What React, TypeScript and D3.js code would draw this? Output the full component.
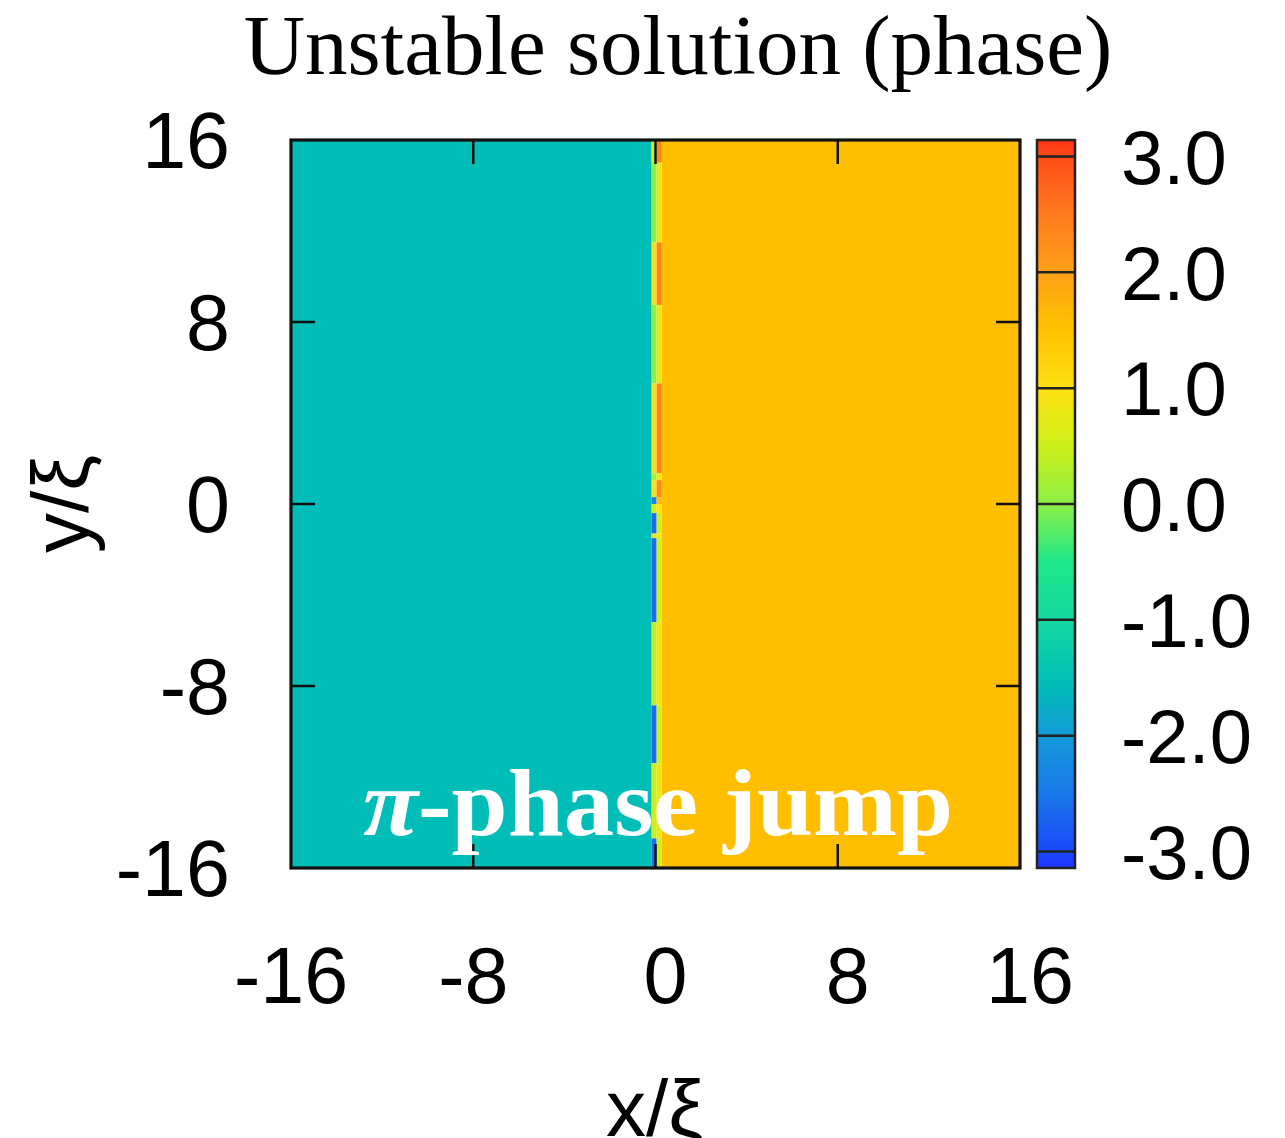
import React from "react";
import * as d3 from "d3";

// Axis ranges (in units of the coherence length ξ) and tick values
const xDomain = [-16, 16];
const yDomain = [-16, 16];
const xTicks = [-16, -8, 0, 8, 16];
const yTicks = [-16, -8, 0, 8, 16];
const cbTicks = [-3, -2, -1, 0, 1, 2, 3];

// Bulk phase on either side of the domain wall
const phaseLeft = -1.55;
const phaseRight = 1.57;

// Domain wall: two grid columns (x edges) and y-segments with their phase values
const wallColumnEdges = [-0.17, 0.05, 0.27];
const wallSegmentEdges = [16, 15.0, 11.5, 8.75, 5.3, 1.35, 1.05, 0.3, 0.0, -0.4, -1.3, -1.5, -5.2, -8.85, -11.4, -14.7, -16];
const wallPhaseInner = [0.6, 0.0, 0.9, 0.0, 0.9, 0.2, 0.9, -2.4, 0.6, -2.6, 0.8, -2.6, 0.4, -2.6, 0.5, -2.6];
const wallPhaseOuter = [2.4, 0.8, 2.4, 0.8, 2.4, 0.9, 2.3, 1.6, 1.0, 0.5, 0.9, 0.5, 0.9, 0.5, 0.8, 0.5];

// Colour palette (phase -> colour)
const paletteValues = [-Math.PI, -3.0, -2.5, -2.0, -1.55, -1.0, -0.5, 0.0, 0.5, 1.0, 1.57, 2.0, 2.5, 3.0, Math.PI];
const paletteColors = [
  "#1e32ff", "#1a48fa", "#1a78ea", "#149ad8", "#00beb7", "#14d8a0", "#1ee88a",
  "#8cf046", "#cdf01a", "#ffe012", "#ffbe00", "#ffa018", "#ff7a1e", "#ff4c18", "#ff3414",
];

const W = 1285;
const H = 1138;
const plot = { left: 291, right: 1020, top: 140, bottom: 868 };
const cbar = { left: 1037, right: 1075 };

export default function App() {
  const x = d3.scaleLinear().domain(xDomain).range([plot.left, plot.right]);
  const y = d3.scaleLinear().domain(yDomain).range([plot.bottom, plot.top]);
  const c = d3.scaleLinear().domain([-Math.PI, Math.PI]).range([plot.bottom, plot.top]);
  const color = d3
    .scaleLinear<string>()
    .domain(paletteValues)
    .range(paletteColors)
    .interpolate(d3.interpolateRgb)
    .clamp(true);

  // plain hyphen for negative numbers
  const fmt = (v: number) => d3.format(".1f")(v).replace("\u2212", "-");
  const tickLen = 24;
  const tickFont = "'Liberation Sans', Arial, Helvetica, sans-serif";
  const serif = "'Liberation Serif', 'Times New Roman', serif";

  const wallRects: { x0: number; x1: number; y0: number; y1: number; v: number }[] = [];
  wallSegmentEdges.slice(0, -1).forEach((top, i) => {
    const bottom = wallSegmentEdges[i + 1];
    wallRects.push({ x0: wallColumnEdges[0], x1: wallColumnEdges[1], y0: bottom, y1: top, v: wallPhaseInner[i] });
    wallRects.push({ x0: wallColumnEdges[1], x1: wallColumnEdges[2], y0: bottom, y1: top, v: wallPhaseOuter[i] });
  });

  const gradStops = d3.range(0, 1.0001, 0.02).map((t) => {
    const v = -Math.PI + t * 2 * Math.PI;
    return { offset: `${(t * 100).toFixed(1)}%`, col: color(v) };
  });

  return (
    <div style={{ position: "absolute", left: 0, top: 0 }}>
      <svg width={W} height={H} viewBox={`0 0 ${W} ${H}`} style={{ display: "block", background: "#fff" }}>
        <defs>
          <linearGradient id="cbGrad" x1="0" y1="1" x2="0" y2="0">
            {gradStops.map((s, i) => (
              <stop key={i} offset={s.offset} stopColor={s.col} />
            ))}
          </linearGradient>
        </defs>

        {/* title */}
        <text x={678} y={74} textAnchor="middle" fontFamily={serif} fontSize={85} fill="#000">
          Unstable solution (phase)
        </text>

        {/* bulk regions */}
        <rect x={x(xDomain[0])} y={y(yDomain[1])} width={x(wallColumnEdges[0]) - x(xDomain[0])} height={y(yDomain[0]) - y(yDomain[1])} fill={color(phaseLeft)} />
        <rect x={x(wallColumnEdges[2])} y={y(yDomain[1])} width={x(xDomain[1]) - x(wallColumnEdges[2])} height={y(yDomain[0]) - y(yDomain[1])} fill={color(phaseRight)} />

        {/* domain wall cells */}
        {wallRects.map((r, i) => (
          <rect key={i} x={x(r.x0)} y={y(r.y1)} width={x(r.x1) - x(r.x0)} height={y(r.y0) - y(r.y1)} fill={color(r.v)} />
        ))}

        {/* inward ticks */}
        {xTicks.slice(1, -1).map((t) => (
          <g key={`xt${t}`} stroke="#111" strokeWidth={2.5}>
            <line x1={x(t)} x2={x(t)} y1={plot.bottom} y2={plot.bottom - tickLen} />
            <line x1={x(t)} x2={x(t)} y1={plot.top} y2={plot.top + tickLen} />
          </g>
        ))}
        {yTicks.slice(1, -1).map((t) => (
          <g key={`yt${t}`} stroke="#111" strokeWidth={2.5}>
            <line x1={plot.left} x2={plot.left + tickLen} y1={y(t)} y2={y(t)} />
            <line x1={plot.right} x2={plot.right - tickLen} y1={y(t)} y2={y(t)} />
          </g>
        ))}

        {/* frame */}
        <rect x={plot.left} y={plot.top} width={plot.right - plot.left} height={plot.bottom - plot.top} fill="none" stroke="#111" strokeWidth={3.2} />

        {/* annotation */}
        <text x={658} y={835} textAnchor="middle" fontFamily={serif} fontWeight="bold" fontSize={96} fill="#fff" textLength={590} lengthAdjust="spacingAndGlyphs">
          <tspan fontStyle="italic">π</tspan>-phase jump
        </text>

        {/* x tick labels */}
        {xTicks.map((t) => (
          <text key={`xl${t}`} x={x(t) + (t >= 0 ? 10 : 0)} y={1003} textAnchor="middle" fontFamily={tickFont} fontSize={79} fill="#000">
            {t}
          </text>
        ))}
        {/* y tick labels */}
        {yTicks.map((t) => (
          <text key={`yl${t}`} x={230} y={y(t)} dy="0.36em" textAnchor="end" fontFamily={tickFont} fontSize={79} fill="#000">
            {t}
          </text>
        ))}

        {/* axis titles */}
        <text x={655} y={1136} textAnchor="middle" fontFamily={tickFont} fontSize={80} fill="#000">
          x/ξ
        </text>
        <text transform={`translate(88,${504}) rotate(-90)`} textAnchor="middle" fontFamily={tickFont} fontSize={80} fill="#000">
          y/ξ
        </text>

        {/* colour bar */}
        <rect x={cbar.left} y={plot.top} width={cbar.right - cbar.left} height={plot.bottom - plot.top} fill="url(#cbGrad)" />
        {cbTicks.map((t) => (
          <line key={`cbt${t}`} x1={cbar.left} x2={cbar.right} y1={c(t)} y2={c(t)} stroke="#222" strokeWidth={2.5} />
        ))}
        <rect x={cbar.left} y={plot.top} width={cbar.right - cbar.left} height={plot.bottom - plot.top} fill="none" stroke="#222" strokeWidth={2.5} />
        {cbTicks.map((t) => (
          <text key={`cbl${t}`} x={1121} y={c(t)} dy="0.36em" textAnchor="start" fontFamily={tickFont} fontSize={76} fill="#000">
            {fmt(t)}
          </text>
        ))}
      </svg>
    </div>
  );
}
